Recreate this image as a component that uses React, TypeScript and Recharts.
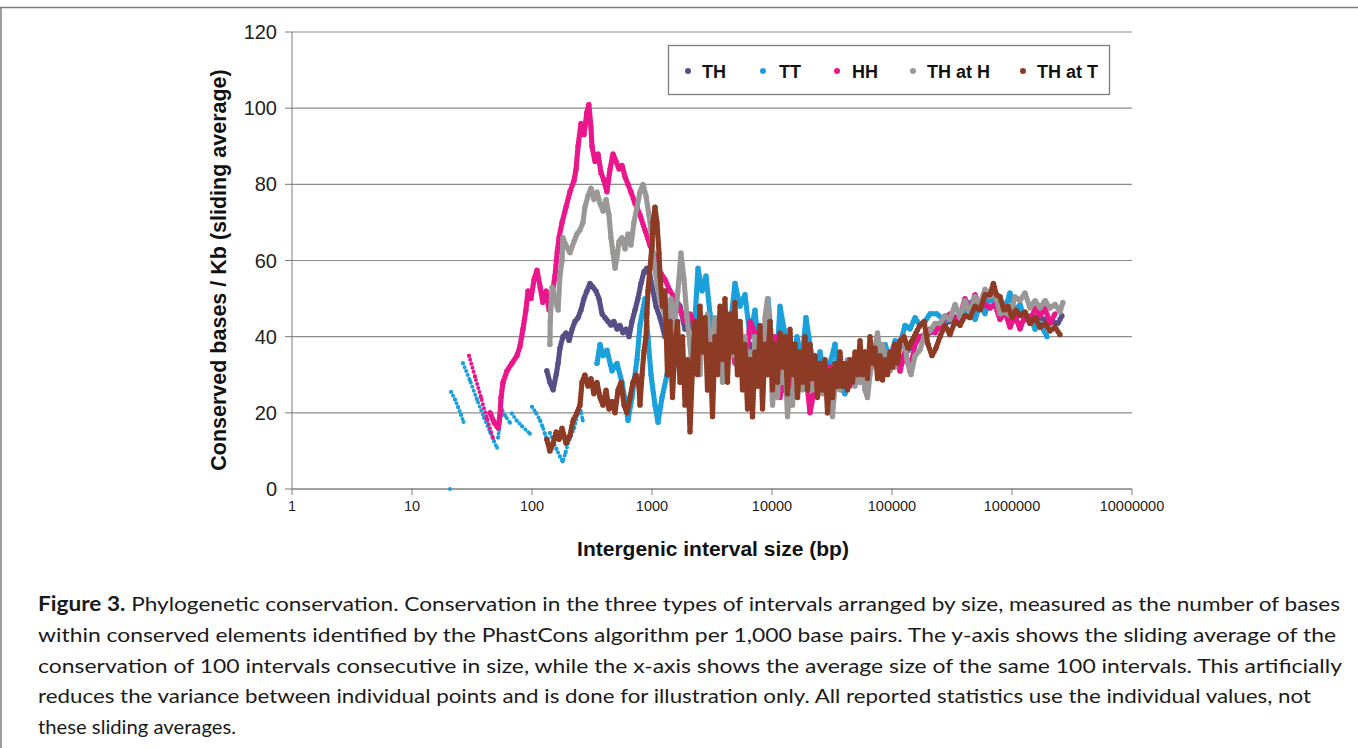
import React from 'react';
import { ScatterChart, Scatter, XAxis, YAxis, CartesianGrid } from 'recharts';

type P = [number, number];

// ---- axis ticks and legend names ----
const X_TICKS = [1, 10, 100, 1000, 10000, 100000, 1000000, 10000000];
const Y_TICKS = [0, 20, 40, 60, 80, 100, 120];
const LEGEND_NAMES = ['TH', 'TT', 'HH', 'TH at H', 'TH at T'];

// ---- TT (intergenic size bp, conserved bases / Kb) ----
const TT_1: P[] = [[20.7, 0]];
const TT_2: P[] = [[21.2, 25.5], [22.8, 23.5], [24.2, 21.5], [25.6, 19.5], [26.9, 17.6]];
const TT_3: P[] = [[26.6, 33], [30.4, 28.5], [34.8, 23.5], [39.8, 18.8], [44.7, 15], [48.3, 12.5], [51.2, 10.8]];
const TT_4: P[] = [[52.2, 13.5], [53.2, 15.5], [54.1, 17.5], [56.3, 20.8], [60, 19.2], [65.6, 17.4]];
const TT_5: P[] = [[67.9, 19.8], [74.4, 18], [82.6, 16.5], [96.2, 14.5]];
const TT_6: P[] = [[100, 21.6], [108, 20], [117, 18], [122, 16.5], [128, 14.5], [133, 13]];
const TT_7: P[] = [[141, 14.7], [150, 12.5], [160, 10.5], [171, 8.5], [180, 7.2], [190, 9.5], [200, 12], [212, 14], [225, 16], [240, 19.5], [255, 20.5], [265, 18]];
const TT_8: P[] = [
  [348, 33], [369, 38], [391, 35], [421, 36.5], [464, 31], [511, 33], [562, 28], [607, 22], [631, 18], [681, 24],
  [750, 34], [794, 43], [874, 50], [925, 40], [981, 30], [1059, 22], [1122, 17.5], [1211, 24], [1333, 30], [1440, 36],
  [1555, 41], [1645, 33], [1812, 28], [1995, 26], [2238, 40], [2417, 58], [2610, 52], [2819, 56], [3043, 46], [3350, 38],
  [3687, 45], [4058, 35], [4467, 42], [4917, 54], [5412, 48], [5957, 51], [6556, 40], [7216, 47], [7943, 33], [8743, 42],
  [9257, 50], [10000, 38], [10790, 30], [11659, 48], [12590, 42], [13590, 36], [14670, 30], [16150, 40], [17780, 34], [19190, 45],
  [20733, 38], [22821, 30], [25119, 36], [27648, 29], [30432, 33], [33497, 38], [36869, 27], [40582, 25], [44668, 31], [49166, 34],
  [54117, 30], [59566, 36], [65564, 33], [72167, 37], [79433, 35], [87433, 38], [96236, 34], [105930, 39], [116591, 38], [128335, 43],
  [141254, 42], [155483, 45], [171133, 43], [188364, 44], [207332, 46], [237000, 46], [276482, 44], [304321, 45], [334965, 44], [368695, 45],
  [405823, 45.5], [446684, 49], [491665, 44.5], [541170, 48.5], [595662, 46], [655642, 51], [721666, 48.5], [794328, 49.5], [874312, 47.5], [962365, 51.5],
  [1059254, 46.5], [1165914, 48.5], [1283330, 44.5], [1412538, 45.5], [1554792, 42], [1711328, 43.5], [1960000, 40],
];

// ---- HH ----
const HH_1: P[] = [[29.85, 35], [33.5, 29.5], [37.6, 24], [42.1, 18.5], [47.3, 13.4]];
const HH_2: P[] = [
  [44.7, 20], [48.3, 17.5], [52.2, 16], [54.1, 19.5], [55.2, 24], [57.3, 28], [61.9, 31], [68.1, 33], [75, 35], [79.4, 37.5],
  [84.1, 42], [89, 47], [92.6, 52], [98, 50], [104, 55], [110, 57.5], [117, 53], [123, 49], [131, 52], [139, 47],
  [147, 51], [155.5, 56], [162, 62], [168, 66], [178, 70], [192, 74], [207, 78], [224, 81], [233, 84], [242, 90],
  [256, 96], [271, 93], [287, 99], [298, 101], [310, 95], [316, 90], [335, 86], [355, 88], [376, 83], [398, 81],
  [421, 78], [447, 84], [473, 88], [501, 86], [531, 84], [562, 85], [596, 82], [631, 80], [668, 78], [722, 75],
  [794, 72], [874, 68], [962, 64], [1059, 61], [1166, 57], [1283, 55], [1413, 52], [1555, 50], [1711, 47], [1884, 44],
  [2073, 46], [2283, 43], [2512, 40], [2765, 44], [3043, 37], [3350, 44], [3687, 42], [4058, 36], [4467, 40], [4917, 33],
  [5412, 38], [5957, 30], [6556, 44], [7216, 41], [7943, 36], [8743, 42], [9624, 33], [10593, 40], [11659, 24], [12833, 30],
  [14125, 23], [15548, 35], [17113, 28], [18836, 33], [20733, 20], [22821, 27], [25119, 33], [27648, 26], [30432, 32], [33497, 28],
  [36869, 31], [40582, 29], [44668, 27], [49166, 32], [54117, 28], [59566, 33], [65564, 31], [72167, 35], [79433, 33], [87433, 36],
  [96236, 34], [105930, 38], [116591, 31], [128335, 36], [141254, 31], [155483, 38], [171133, 40], [188364, 39], [207332, 42], [228214, 41],
  [251189, 43], [276482, 45], [304321, 46], [334965, 44], [368695, 45.5], [405823, 50], [446684, 46.5], [491665, 51], [541170, 47.5], [595662, 48.5],
  [655642, 47.5], [721666, 48.5], [794328, 44.5], [874312, 46.5], [962365, 42.5], [1059254, 45.5], [1165914, 42], [1283330, 45.5], [1412538, 43.5], [1554792, 47.5],
  [1711328, 45.5], [1883649, 47.5], [2073317, 43.5], [2282180, 46],
];

// ---- TH ----
const TH_1: P[] = [
  [133, 31], [141, 28], [150, 26], [159, 30], [165, 33], [171, 37], [181, 40], [192, 41], [204, 39], [216, 42],
  [228, 44], [242, 45], [256, 47], [271, 50], [287, 52], [304, 54], [322, 53], [341, 52], [362, 50], [383, 46],
  [406, 45], [430, 44], [455, 43], [482, 44], [511, 42], [541, 43], [574, 41], [607, 42], [644, 40], [681, 44],
  [722, 47], [764, 50], [810, 54], [857, 57], [907, 58], [962, 56], [1020, 52], [1080, 48], [1166, 45], [1283, 40],
  [1413, 46], [1555, 50], [1711, 48], [1884, 42], [2073, 44], [2512, 38], [3043, 42], [3687, 35], [4467, 40], [5412, 32],
  [6556, 38], [7943, 30], [9624, 36], [11659, 28], [14125, 34], [17113, 27], [20733, 33], [25119, 29], [30432, 32], [36869, 28],
  [44668, 31], [54117, 30], [65564, 33], [79433, 32], [96236, 35], [116591, 34], [141254, 37], [171133, 40], [207332, 41], [251189, 43],
  [304321, 44], [368695, 46], [446684, 47], [541170, 49], [655642, 50], [794328, 48], [962365, 47], [1165914, 46], [1412538, 45], [1711328, 45],
  [2073317, 44], [2410000, 43.5], [2610000, 45.5],
];

// ---- TH at H ----
const THH_1: P[] = [
  [141, 38], [142, 44], [144, 48], [147, 53], [155.5, 50], [165, 47], [171, 56], [178, 60], [181, 66], [192, 64],
  [207, 62], [224, 65], [237, 67], [251, 68], [266, 70], [276, 74], [293, 77], [310, 79], [328, 76], [348, 78],
  [369, 75], [391, 73], [414, 76], [438, 72], [455, 66], [473, 62], [492, 58], [511, 61], [531, 65], [562, 66],
  [596, 63], [631, 67], [668, 64], [707, 70], [750, 74], [794, 78], [841, 80], [891, 77], [943, 72], [981, 68],
  [1020, 62], [1059, 58], [1122, 52], [1211, 48], [1333, 44], [1440, 50], [1525, 42], [1645, 52], [1744, 62], [1848, 55],
  [1957, 45], [2073, 38], [2175, 30], [2283, 42], [2395, 33], [2512, 30], [2636, 44], [2765, 36], [2901, 46], [3043, 32],
  [3193, 40], [3350, 45], [3515, 33], [3687, 38], [3869, 28], [4058, 40], [4258, 32], [4467, 44], [4687, 35], [4917, 42],
  [5159, 30], [5412, 44], [5678, 36], [5957, 40], [6250, 30], [6556, 36], [6879, 26], [7216, 40], [7571, 32], [7943, 38],
  [8334, 30], [8743, 45], [9173, 50], [9624, 40], [10098, 22], [10593, 30], [11114, 24], [11659, 36], [12233, 28], [12833, 34],
  [13464, 19], [14125, 26], [14820, 22], [15548, 32], [16313, 24], [17113, 34], [17955, 26], [18836, 36], [19763, 28], [20733, 33],
  [21753, 26], [22821, 34], [23944, 27], [25119, 30], [26355, 25], [27648, 32], [29008, 23], [30432, 28], [31929, 19], [33497, 27],
  [35145, 31], [36869, 26], [38684, 33], [40582, 28], [42579, 34], [44668, 29], [46866, 33], [49166, 27], [51585, 31], [54117, 28],
  [56779, 32], [59566, 26], [62497, 24], [65564, 30], [68791, 34], [72167, 37], [75718, 41], [79433, 36], [83342, 38], [87433, 32],
  [91735, 36], [96236, 31], [100970, 35], [105930, 32], [111140, 36], [116591, 37], [125900, 40], [133400, 34], [144000, 30], [155483, 35],
  [171133, 36.5], [188364, 41], [207332, 41.5], [228214, 43.5], [251189, 43.5], [276482, 45.5], [304321, 44.5], [334965, 48.5], [368695, 45], [405823, 49.5],
  [446684, 46], [491665, 50.5], [541170, 48.5], [595662, 52.5], [655642, 50.5], [721666, 51.5], [794328, 46], [874312, 46.5], [962365, 45.5], [1059254, 50.5],
  [1165914, 49.5], [1283330, 51.5], [1412538, 47.5], [1554792, 49.5], [1711328, 47.5], [1883649, 49.5], [2073317, 47.5], [2282180, 48.5], [2511886, 46.5], [2660000, 49],
];

// ---- TH at T ----
const THT_1: P[] = [
  [133, 13], [141, 10], [150, 12], [159, 15], [168, 13], [178, 16], [192, 12], [207, 14], [220, 18], [237, 20],
  [251, 22], [261, 28], [276, 30], [293, 27], [310, 29], [328, 25], [348, 28], [369, 24], [391, 22], [414, 26],
  [438, 21], [464, 23], [492, 20], [521, 26], [552, 28], [585, 22], [620, 20], [656, 24], [694, 28], [736, 30],
  [779, 27], [794, 22], [826, 30], [857, 36], [891, 40], [907, 46], [925, 52], [962, 58], [1000, 64], [1020, 70],
  [1059, 74], [1100, 70], [1144, 62], [1166, 56], [1223, 48], [1283, 52], [1346, 30], [1413, 44], [1482, 24], [1555, 38],
  [1632, 44], [1711, 28], [1795, 40], [1884, 22], [1977, 34], [2073, 15], [2175, 32], [2283, 44], [2395, 30], [2512, 48],
  [2636, 36], [2765, 45], [2901, 26], [3043, 38], [3193, 19], [3350, 40], [3515, 30], [3687, 48], [3869, 34], [4058, 50],
  [4258, 28], [4467, 46], [4687, 36], [4917, 49], [5159, 30], [5412, 44], [5678, 26], [5957, 38], [6250, 21], [6556, 34],
  [6879, 19], [7216, 36], [7571, 27], [7943, 43], [8334, 21], [8743, 38], [9173, 30], [9624, 44], [10098, 26], [10593, 38],
  [11114, 28], [11659, 41], [12233, 32], [12833, 40], [13464, 25], [14125, 42], [14820, 30], [15548, 38], [16313, 24], [17113, 36],
  [17955, 28], [18836, 40], [19763, 26], [20733, 38], [21753, 29], [22821, 35], [23944, 24], [25119, 33], [26355, 26], [27648, 34],
  [29008, 20], [30432, 31], [31929, 24], [33497, 33], [35145, 27], [36869, 36], [38684, 27], [40582, 33], [42579, 26], [44668, 34],
  [46866, 28], [49166, 36], [51585, 30], [54117, 39], [56779, 30], [59566, 36], [62497, 29], [65564, 40], [68791, 33], [72167, 37],
  [75718, 29], [79433, 35], [83342, 28.6], [87433, 34], [91735, 30], [96236, 36], [100970, 32], [105930, 38], [111140, 33], [116591, 39],
  [125900, 40], [135900, 37], [146800, 39], [158500, 41], [171133, 43], [184800, 44], [199500, 38], [215400, 35], [232600, 37], [251189, 40],
  [276482, 43], [304321, 40.5], [334965, 44], [368695, 43], [405823, 45.5], [446684, 45], [491665, 48], [541170, 47], [595662, 51], [655642, 51],
  [700000, 54], [742000, 51], [794328, 50.5], [857000, 47], [926000, 48], [1000000, 45], [1080000, 47], [1165914, 45.5], [1283330, 46.5], [1412538, 43.5],
  [1554792, 45], [1711328, 42.5], [1883649, 43.5], [2073317, 41.5], [2282180, 42.5], [2511886, 40.5],
];

const CAPTION_LINES = [
  'within conserved elements identified by the PhastCons algorithm per 1,000 base pairs. The y-axis shows the sliding average of the',
  'conservation of 100 intervals consecutive in size, while the x-axis shows the average size of the same 100 intervals. This artificially',
  'reduces the variance between individual points and is done for illustration only. All reported statistics use the individual values, not',
  'these sliding averages.',
];

const COLORS = ['#574e86', '#1aa1dc', '#ea168c', '#9a9797', '#8d3b24'];

// sparse = thin dotted trail; otherwise dense band
const SERIES: { color: string; segs: P[][]; sparse: boolean[] }[] = [
  { color: COLORS[0], segs: [TH_1], sparse: [false] },
  { color: COLORS[1], segs: [TT_1, TT_2, TT_3, TT_4, TT_5, TT_6, TT_7, TT_8], sparse: [true, true, true, true, true, true, true, false] },
  { color: COLORS[2], segs: [HH_1, HH_2], sparse: [true, false] },
  { color: COLORS[3], segs: [THH_1], sparse: [false] },
  { color: COLORS[4], segs: [THT_1], sparse: [false] },
];

const FONT = '"Liberation Sans", Arial, sans-serif';

export default function App() {
  const scatters: React.ReactNode[] = [];
  SERIES.forEach((s, si) => {
    s.segs.forEach((seg, gi) => {
      const data = seg.map(([x, y]) => ({ x, y }));
      const sparse = s.sparse[gi];
      scatters.push(
        <Scatter
          key={`${si}-${gi}`}
          data={data}
          fill={s.color}
          isAnimationActive={false}
          line={{
            stroke: s.color,
            strokeWidth: sparse ? 4 : 5.4,
            strokeDasharray: sparse ? '0 4.2' : '0 3',
            strokeLinecap: 'round',
            strokeLinejoin: 'round',
          }}
          lineType="joint"
          shape={(p: any) => <circle cx={p.cx} cy={p.cy} r={sparse ? 2 : 2.6} fill={s.color} />}
        />
      );
    });
  });

  const legendPos = [
    [688, 702],
    [763, 779],
    [837, 852],
    [913, 927],
    [1023, 1037],
  ];

  const captionLens = [1298, 1304, 1273, 198];

  return (
    <div style={{ position: 'absolute', left: 0, top: 0, width: 1358, height: 748, background: '#fff', overflow: 'hidden' }}>
      <div style={{ position: 'absolute', left: 0, top: 0 }}>
        <ScatterChart width={1358} height={570} margin={{ top: 32, right: 226, bottom: 51, left: 232 }}>
          <CartesianGrid vertical={false} stroke="#8c8c8c" strokeWidth={1.2} />
          <XAxis
            dataKey="x"
            type="number"
            scale="log"
            domain={[1, 10000000]}
            ticks={X_TICKS}
            interval={0}
            allowDataOverflow
            height={30}
            stroke="#7a7a7a"
            tickSize={6}
            tickMargin={6}
            tick={{ fontSize: 14.5, fill: '#222', fontFamily: FONT }}
          />
          <YAxis
            dataKey="y"
            type="number"
            domain={[0, 120]}
            ticks={Y_TICKS}
            interval={0}
            width={60}
            stroke="#7a7a7a"
            tickSize={7}
            tickMargin={8}
            tick={{ fontSize: 20, fill: '#222', fontFamily: FONT }}
          />
          {scatters}
        </ScatterChart>
      </div>
      <svg width={1358} height={748} style={{ position: 'absolute', left: 0, top: 0, pointerEvents: 'none' }}>
        <line x1={0} y1={7.5} x2={1358} y2={7.5} stroke="#7d7d7d" strokeWidth={1.5} />
        <line x1={1} y1={7} x2={1} y2={748} stroke="#7d7d7d" strokeWidth={1.5} />
        <rect x={668.5} y={45.5} width={441} height={49} fill="#fff" stroke="#7d7d7d" strokeWidth={1.3} />
        {LEGEND_NAMES.map((n, i) => (
          <g key={n}>
            <circle cx={legendPos[i][0]} cy={71} r={3} fill={COLORS[i]} />
            <text x={legendPos[i][1]} y={78} fontFamily={FONT} fontWeight={700} fontSize={18} fill="#111">{n}</text>
          </g>
        ))}
        <text
          transform="rotate(-90)"
          x={-270}
          y={226}
          textAnchor="middle"
          fontFamily={FONT}
          fontWeight={700}
          fontSize={21.5}
          fill="#111"
        >
          Conserved bases / Kb (sliding average)
        </text>
        <text x={713} y={556} textAnchor="middle" fontFamily={FONT} fontWeight={700} fontSize={21} fill="#111">
          Intergenic interval size (bp)
        </text>
        <text x={38} y={611} fontFamily="Lato, sans-serif" fontSize={20} fill="#1a1a1a" textLength={1302} lengthAdjust="spacingAndGlyphs">
          <tspan fontWeight={700}>Figure 3.</tspan>
          {'  Phylogenetic conservation. Conservation in the three types of intervals arranged by size, measured as the number of bases'}
        </text>
        {CAPTION_LINES.map((l, i) => (
          <text
            key={i}
            x={38}
            y={642 + i * 30.7}
            fontFamily="Lato, sans-serif"
            fontSize={20}
            fill="#1a1a1a"
            textLength={captionLens[i]}
            lengthAdjust="spacingAndGlyphs"
          >
            {l}
          </text>
        ))}
      </svg>
    </div>
  );
}
